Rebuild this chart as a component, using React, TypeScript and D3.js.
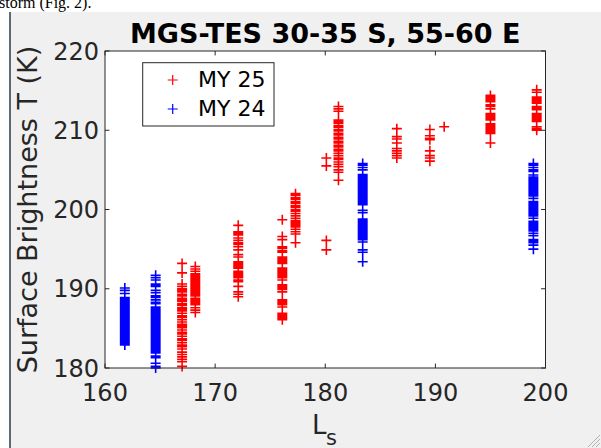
import * as d3 from "d3";

// MY 24 (blue) clusters: solar longitude and surface brightness temperatures
const my24Ls = [161.8, 164.6, 183.4, 198.9];
const my24T = [
  [190.1, 189.8, 189.4, 188.9, 188.7, 188.5, 188.3, 188.1, 187.9, 187.7, 187.5, 187.3, 187.1, 186.9, 186.7, 186.5, 186.3, 186.1, 185.9, 185.7, 185.5, 185.3, 185.1, 184.9, 184.7, 184.5, 184.3, 184.1, 183.9, 183.7, 183.5, 183.3, 183.1, 182.9],
  [191.7, 191.4, 191.1, 190.6, 190.5, 190.3, 189.8, 189.5, 189.1, 188.9, 188.6, 188.3, 188.1, 187.7, 187.5, 187.3, 187.1, 186.9, 186.7, 186.5, 186.3, 186.1, 185.9, 185.7, 185.5, 185.3, 185.1, 184.9, 184.7, 184.5, 184.3, 184.1, 183.9, 183.7, 183.5, 183.3, 183.1, 182.9, 182.7, 182.5, 182.3, 182.1, 181.9, 181.5, 181.3, 180.6, 180.2, 180.0],
  [205.8, 205.6, 205.3, 205.0, 204.4, 204.2, 204.0, 203.8, 203.6, 203.4, 203.2, 203.0, 202.8, 202.6, 202.4, 202.2, 202.0, 201.8, 201.6, 201.4, 201.2, 201.0, 200.8, 200.6, 199.9, 199.6, 198.8, 198.6, 198.4, 198.2, 198.0, 197.8, 197.6, 197.4, 197.2, 197.0, 196.8, 196.6, 196.4, 196.2, 195.9, 194.9, 194.6, 193.4],
  [205.8, 205.6, 205.3, 205.0, 204.8, 204.35, 204.1, 203.9, 203.7, 203.5, 203.3, 203.1, 202.9, 202.7, 202.5, 202.3, 202.1, 201.9, 201.7, 201.4, 201.0, 200.8, 200.6, 200.4, 200.2, 200.0, 199.8, 199.6, 199.4, 199.2, 198.9, 198.5, 198.3, 198.1, 197.9, 197.7, 197.5, 197.3, 197.0, 196.7, 196.2, 196.0, 195.8, 195.5, 195.0],
];

// MY 25 (red) clusters
const my25Ls = [167.0, 168.2, 172.1, 176.1, 177.3, 180.1, 181.2, 186.5, 189.5, 190.8, 195.0, 199.2];
const my25T = [
  [193.2, 192.0, 190.6, 190.3, 190.0, 189.8, 189.6, 189.3, 189.1, 188.8, 188.6, 188.4, 188.1, 187.9, 187.6, 187.4, 187.2, 186.9, 186.6, 186.4, 186.1, 185.8, 185.5, 185.3, 185.1, 184.8, 184.5, 184.3, 184.0, 183.7, 183.5, 183.2, 182.9, 182.7, 182.4, 182.0, 181.7, 181.4, 181.1, 180.8, 180.2],
  [192.8, 192.5, 192.2, 191.9, 191.7, 191.5, 191.3, 191.1, 190.9, 190.7, 190.5, 190.3, 190.1, 189.9, 189.7, 189.5, 189.3, 189.1, 188.8, 188.6, 188.4, 188.2, 188.0, 187.6, 187.3, 187.0],
  [198.0, 197.2, 197.0, 196.8, 196.4, 196.1, 195.8, 195.6, 195.3, 194.9, 194.3, 194.0, 193.4, 193.2, 193.0, 192.8, 192.6, 192.2, 192.0, 191.8, 191.6, 191.4, 191.1, 190.9, 190.3, 189.6, 189.3, 189.0],
  [198.7, 196.6, 196.2, 195.3, 195.1, 194.8, 194.6, 194.0, 193.8, 193.6, 193.4, 193.2, 192.6, 192.4, 192.2, 192.0, 191.8, 191.6, 191.4, 191.1, 190.5, 190.3, 190.1, 189.9, 189.6, 188.6, 188.4, 188.2, 188.0, 187.7, 186.9, 186.7, 186.5, 186.3, 186.1],
  [202.0, 201.8, 201.5, 201.3, 201.0, 200.8, 200.5, 200.3, 200.0, 199.8, 199.5, 199.2, 198.9, 198.6, 198.4, 198.2, 198.0, 197.8, 197.5, 197.2, 196.9, 195.8],
  [206.5, 205.5, 196.1, 194.9],
  [213.0, 212.7, 212.4, 211.3, 211.1, 210.9, 210.6, 210.4, 210.1, 209.9, 209.6, 209.4, 209.1, 208.9, 208.6, 208.4, 208.1, 207.9, 207.6, 207.4, 207.1, 206.8, 206.5, 206.3, 206.0, 205.7, 205.4, 205.0, 204.7, 203.7],
  [210.2, 209.2, 208.9, 208.4, 207.7, 207.4, 207.1, 206.8, 206.5],
  [210.1, 209.3, 209.0, 208.8, 207.4, 206.8, 206.5, 206.1],
  [210.45],
  [214.4, 214.2, 214.0, 213.8, 213.6, 213.2, 213.0, 212.7, 212.1, 211.9, 211.7, 211.5, 211.3, 210.8, 210.6, 210.4, 210.2, 210.0, 209.8, 209.6, 208.4],
  [215.1, 214.8, 214.2, 214.0, 213.8, 213.6, 213.4, 213.0, 212.8, 212.6, 212.1, 211.9, 211.7, 211.5, 211.3, 211.1, 210.45, 210.2, 210.0],
];

const xTicks = [160, 170, 180, 190, 200];
const yTicks = [180, 190, 200, 210, 220];

const W = 601;
const H = 448;
const plot = { left: 105, right: 545.5, top: 51, bottom: 368 };
const axisColor = "#262626";
const font = "'DejaVu Sans', sans-serif";

function plus(cx: number, cy: number, h = 5) {
  return `M${cx - h},${cy}h${2 * h}M${cx},${cy - h}v${2 * h}`;
}

export default function App() {
  const x = d3.scaleLinear().domain([160, 200]).range([plot.left, plot.right]);
  const y = d3.scaleLinear().domain([180, 220]).range([plot.bottom, plot.top]);
  const tl = 4.4;

  const seriesPath = (ls: number[], temps: number[][]) =>
    ls
      .map((l, i) => temps[i].map((t) => plus(x(l), y(t))).join(""))
      .join("");

  return (
    <svg
      width={W}
      height={H}
      style={{ position: "absolute", left: 0, top: 0, background: "#fff" }}
    >
      <text x={-1} y={8} fontFamily="'Liberation Serif', serif" fontSize={16} fill="#000">
        storm (Fig. 2).
      </text>
      <rect x={10} y={12} width={W - 10} height={H - 12} fill="#f0f0f0" />
      <line x1={10} x2={10} y1={12} y2={H} stroke="#2b3a4a" strokeWidth={1.5} />

      {/* resize grip */}
      {[5, 9, 13].map((d) => (
        <line key={d} x1={W - 1} y1={H - d} x2={W - d} y2={H - 1} stroke="#b0b0b0" strokeWidth={1} />
      ))}

      <rect
        x={plot.left}
        y={plot.top}
        width={plot.right - plot.left}
        height={plot.bottom - plot.top}
        fill="#fff"
      />

      {/* data */}
      <path d={seriesPath(my25Ls, my25T)} stroke="#ff0000" strokeWidth={1.6} fill="none" />
      <path d={seriesPath(my24Ls, my24T)} stroke="#0000ff" strokeWidth={1.6} fill="none" />

      {/* box and ticks */}
      <rect
        x={plot.left}
        y={plot.top}
        width={plot.right - plot.left}
        height={plot.bottom - plot.top}
        fill="none"
        stroke={axisColor}
        strokeWidth={1}
      />
      {xTicks.map((t) => (
        <g key={"x" + t}>
          <line x1={x(t)} x2={x(t)} y1={plot.bottom} y2={plot.bottom - tl} stroke={axisColor} />
          <line x1={x(t)} x2={x(t)} y1={plot.top} y2={plot.top + tl} stroke={axisColor} />
          <text
            x={x(t)}
            y={400.5}
            textAnchor="middle"
            fontFamily={font}
            fontSize={24}
            fill={axisColor}
          >
            {t}
          </text>
        </g>
      ))}
      {yTicks.map((t) => (
        <g key={"y" + t}>
          <line x1={plot.left} x2={plot.left + tl} y1={y(t)} y2={y(t)} stroke={axisColor} />
          <line x1={plot.right} x2={plot.right - tl} y1={y(t)} y2={y(t)} stroke={axisColor} />
          <text
            x={99}
            y={y(t) + 8.7}
            textAnchor="end"
            fontFamily={font}
            fontSize={24}
            fill={axisColor}
          >
            {t}
          </text>
        </g>
      ))}

      {/* labels */}
      <text
        x={(plot.left + plot.right) / 2}
        y={43}
        textAnchor="middle"
        fontFamily={font}
        fontWeight="bold"
        fontSize={27}
        fill="#000"
      >
        MGS-TES 30-35 S, 55-60 E
      </text>
      <text
        transform={`translate(37,${(plot.top + plot.bottom) / 2}) rotate(-90)`}
        textAnchor="middle"
        fontFamily={font}
        fontSize={27}
        fill={axisColor}
      >
        Surface Brightness T (K)
      </text>
      <text x={312} y={434} fontFamily={font} fontSize={26} fill={axisColor}>
        L
      </text>
      <text x={326} y={445} fontFamily={font} fontSize={21} fill={axisColor}>
        s
      </text>

      {/* legend */}
      <rect x={142.7} y={62.7} width={131.3} height={63.3} fill="#fff" stroke={axisColor} strokeWidth={1} />
      <path d={plus(172.7, 80)} stroke="#ff0000" strokeWidth={1.2} />
      <path d={plus(172.7, 109)} stroke="#0000ff" strokeWidth={1.2} />
      <text x={198} y={87} fontFamily={font} fontSize={22} fill="#000">
        MY 25
      </text>
      <text x={198} y={116} fontFamily={font} fontSize={22} fill="#000">
        MY 24
      </text>
    </svg>
  );
}
